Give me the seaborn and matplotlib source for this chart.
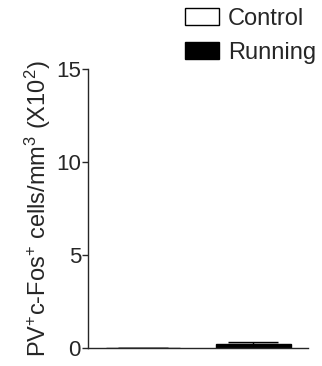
import numpy as np
import pandas as pd
import matplotlib
matplotlib.use('Agg')
import matplotlib.pyplot as plt
import seaborn as sns
from matplotlib.patches import Patch

# Data (units: x10^2 cells/mm^3)
groups = ['Control', 'Running']
means = [0.02, 0.20]
sems = [0.01, 0.12]
colors = {'Control': 'white', 'Running': 'black'}

df = pd.DataFrame({'group': groups, 'value': means})

sns.set_style('ticks')
plt.rcParams['font.family'] = ['Liberation Sans', 'DejaVu Sans']
plt.rcParams['mathtext.fontset'] = 'custom'
plt.rcParams['mathtext.rm'] = 'Liberation Sans'
plt.rcParams['mathtext.it'] = 'Liberation Sans'

fig = plt.figure(figsize=(3.22, 3.66), dpi=100)
ax = fig.add_axes([0.273, 0.049, 0.684, 0.762])

sns.barplot(data=df, x='group', y='value', hue='group', palette=colors,
            edgecolor='black', linewidth=1, width=0.68, errorbar=None,
            legend=False, ax=ax)

# upper error bars only
ax.errorbar(x=np.arange(len(groups)), y=means,
            yerr=[np.zeros(len(sems)), sems], fmt='none',
            ecolor='black', elinewidth=1, capsize=18, capthick=1)

ax.set_xlim(-0.5, 1.5)
ax.set_ylim(0, 15)
ax.set_yticks([0, 5, 10, 15])
ax.set_xticks([])
ax.set_xlabel('')
ax.set_ylabel(r'PV$^{+}$c-Fos$^{+}$ cells/mm$^{3}$ (X10$^{2}$)', fontsize=17, labelpad=2)
ax.tick_params(axis='y', direction='out', length=4, width=1, labelsize=16, pad=1)
for side in ['top', 'right']:
    ax.spines[side].set_visible(False)
ax.spines['left'].set_linewidth(1)
ax.spines['bottom'].set_linewidth(1)

handles = [Patch(facecolor=colors[g], edgecolor='black', linewidth=1, label=g) for g in groups]
fig.legend(handles=handles, loc='upper left', bbox_to_anchor=(0.573, 0.978),
           frameon=False, fontsize=17, handlelength=1.45, handleheight=0.75,
           handletextpad=0.4, labelspacing=0.5, borderpad=0, borderaxespad=0)

fig.savefig('out.png', dpi=100)
